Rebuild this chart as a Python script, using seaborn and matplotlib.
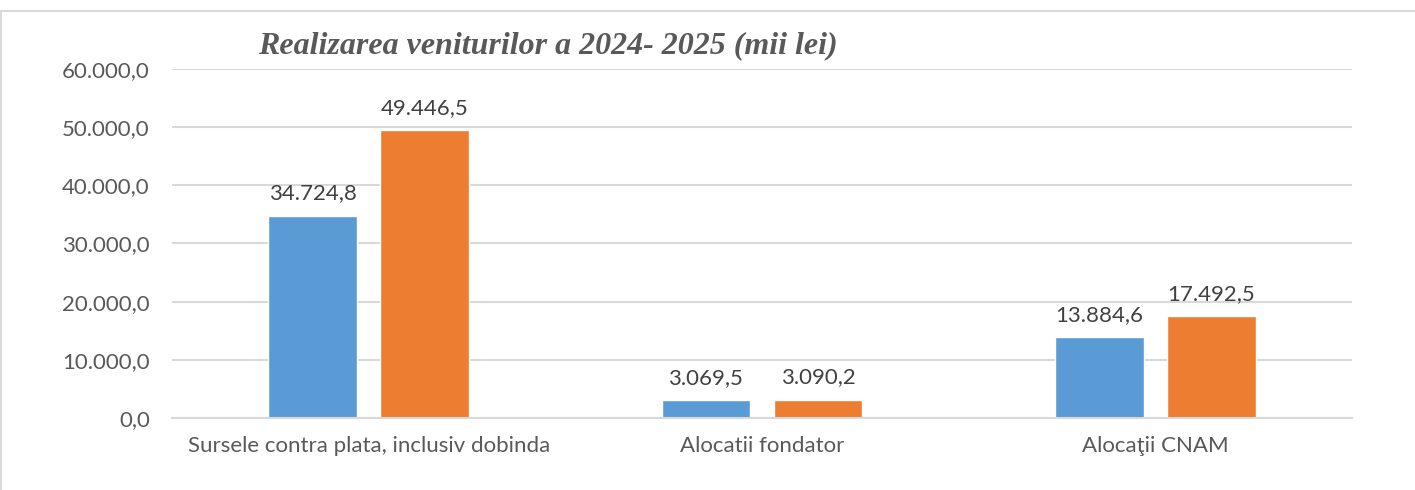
import matplotlib
matplotlib.use('Agg')
import matplotlib.pyplot as plt
import pandas as pd
import seaborn as sns
from matplotlib.lines import Line2D
from matplotlib.ticker import FuncFormatter

categories = ['Sursele contra plata, inclusiv dobinda', 'Alocatii fondator',
              'Alocaţii CNAM']
years = ['2024', '2025']
values_2024 = [34724.8, 3069.5, 13884.6]
values_2025 = [49446.5, 3090.2, 17492.5]
title = 'Realizarea veniturilor a 2024- 2025 (mii lei)'

BLUE = '#5B9BD5'
ORANGE = '#ED7D31'
TEXT = '#595959'
GRID = '#D9D9D9'


def ro_fmt(v):
    s = f'{v:,.1f}'
    return s.replace(',', ' ').replace('.', ',').replace(' ', '.')


df = pd.DataFrame({
    'cat': categories * 2,
    'year': [years[0]] * 3 + [years[1]] * 3,
    'val': values_2024 + values_2025,
})

sns.set_style('white')
plt.rcParams['font.family'] = ['Lato', 'DejaVu Sans']

fig = plt.figure(figsize=(14.15, 4.9), dpi=100)
ax = fig.add_axes([172 / 1415, 1 - 418 / 490, 1180 / 1415, 349 / 490])

sns.barplot(data=df, x='cat', y='val', hue='year', order=categories,
            hue_order=years, palette=[BLUE, ORANGE], width=0.57, gap=0.21,
            saturation=1, legend=False, ax=ax)

for cont in ax.containers:
    ax.bar_label(cont, labels=[ro_fmt(b.get_height()) for b in cont],
                 padding=9, fontsize=16, color='#404040')

ax.set_ylim(0, 60000)
ax.set_yticks(range(0, 60001, 10000))
ax.yaxis.set_major_formatter(FuncFormatter(lambda v, _: ro_fmt(v)))
ax.set_xlim(-0.5, 2.5)
ax.grid(axis='y', color=GRID, linewidth=1.5)
ax.set_axisbelow(True)
for side in ['top', 'right', 'left']:
    ax.spines[side].set_visible(False)
ax.spines['bottom'].set_color(GRID)
ax.spines['bottom'].set_linewidth(1.5)
ax.tick_params(axis='y', length=0, pad=16, labelsize=16, labelcolor=TEXT)
ax.tick_params(axis='x', length=0, pad=13, labelsize=16, labelcolor=TEXT)
ax.set_xlabel('')
ax.set_ylabel('')

fig.text(258 / 1415, 1 - 46 / 490, title, family='Liberation Serif',
         style='italic', weight='bold', fontsize=23, color=TEXT,
         ha='left', va='center')

# chart frame (top and left edges visible in the crop)
fig.add_artist(Line2D([0, 1], [1 - 11 / 490] * 2, color='#D9D9D9', lw=1.5,
                      transform=fig.transFigure))
fig.add_artist(Line2D([0.5 / 1415] * 2, [0, 1 - 11 / 490], color='#D9D9D9',
                      lw=1.5, transform=fig.transFigure))

fig.savefig('out.png', dpi=100)
